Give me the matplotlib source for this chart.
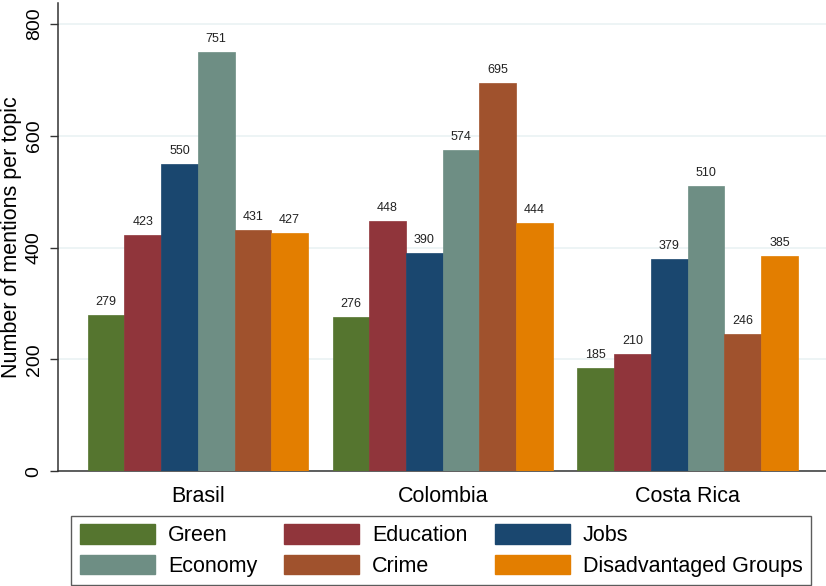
import numpy as np
import matplotlib
matplotlib.use("Agg")
import matplotlib.pyplot as plt
from matplotlib.patches import Patch

plt.rcParams["font.family"] = ["Liberation Sans", "DejaVu Sans"]

# ── Data ──────────────────────────────────────────────────────────────────────
countries = ["Brasil", "Colombia", "Costa Rica"]
topics = ["Green", "Education", "Jobs", "Economy", "Crime", "Disadvantaged Groups"]
green = [279, 276, 185]
education = [423, 448, 210]
jobs = [550, 390, 379]
economy = [751, 574, 510]
crime = [431, 695, 246]
disadvantaged = [427, 444, 385]
yticks = [0, 200, 400, 600, 800]

series = [green, education, jobs, economy, crime, disadvantaged]
colors = ["#55752F", "#90353B", "#1A476F", "#6E8E84", "#A0522D", "#E37E00"]

# ── Plot ──────────────────────────────────────────────────────────────────────
fig = plt.figure(figsize=(8.26, 5.86), dpi=100)
ax = fig.add_axes([0.0702, 0.196, 0.9298, 0.799])

x = np.arange(len(countries))
width = 0.15
n = len(series)
for i, (vals, col) in enumerate(zip(series, colors)):
    offs = (i - (n - 1) / 2) * width
    bars = ax.bar(x + offs, vals, width, color=col, edgecolor=col,
                  linewidth=0.5, zorder=3, label=topics[i])
    ax.bar_label(bars, labels=[str(v) for v in vals], padding=5,
                 fontsize=9, color="#222222")

ax.set_xlim(-0.571, 2.565)
ax.set_ylim(0, 838)
ax.set_yticks(yticks)
ax.set_yticklabels([str(t) for t in yticks], rotation=90, va="center",
                   fontsize=14)
ax.set_xticks(x)
ax.set_xticklabels(countries, fontsize=15.5)
ax.tick_params(axis="x", length=0, pad=11)
ax.tick_params(axis="y", direction="out", length=6, width=1,
               color="#333333", pad=5)
ax.set_ylabel("Number of mentions per topic", fontsize=15.5, labelpad=3)

ax.grid(axis="y", color="#EAF2F3", linewidth=1.2, zorder=0)
ax.set_axisbelow(True)
for s in ["top", "right"]:
    ax.spines[s].set_visible(False)
for s in ["left", "bottom"]:
    ax.spines[s].set_color("#333333")
    ax.spines[s].set_linewidth(1.1)

# legend, row-major order like Stata
order = [0, 3, 1, 4, 2, 5]
handles = [Patch(facecolor=colors[k], edgecolor=colors[k]) for k in order]
labels = [topics[k] for k in order]
leg = fig.legend(handles, labels, ncol=3, loc="center",
                 bbox_to_anchor=(0.534, 0.0605), fontsize=15.5,
                 frameon=True, fancybox=False, edgecolor="#333333",
                 handlelength=3.5, handleheight=1.0, handletextpad=0.6,
                 columnspacing=1.25, labelspacing=0.4, borderpad=0.4)
leg.get_frame().set_linewidth(1.0)

plt.savefig("out.png", dpi=100)
plt.close()
